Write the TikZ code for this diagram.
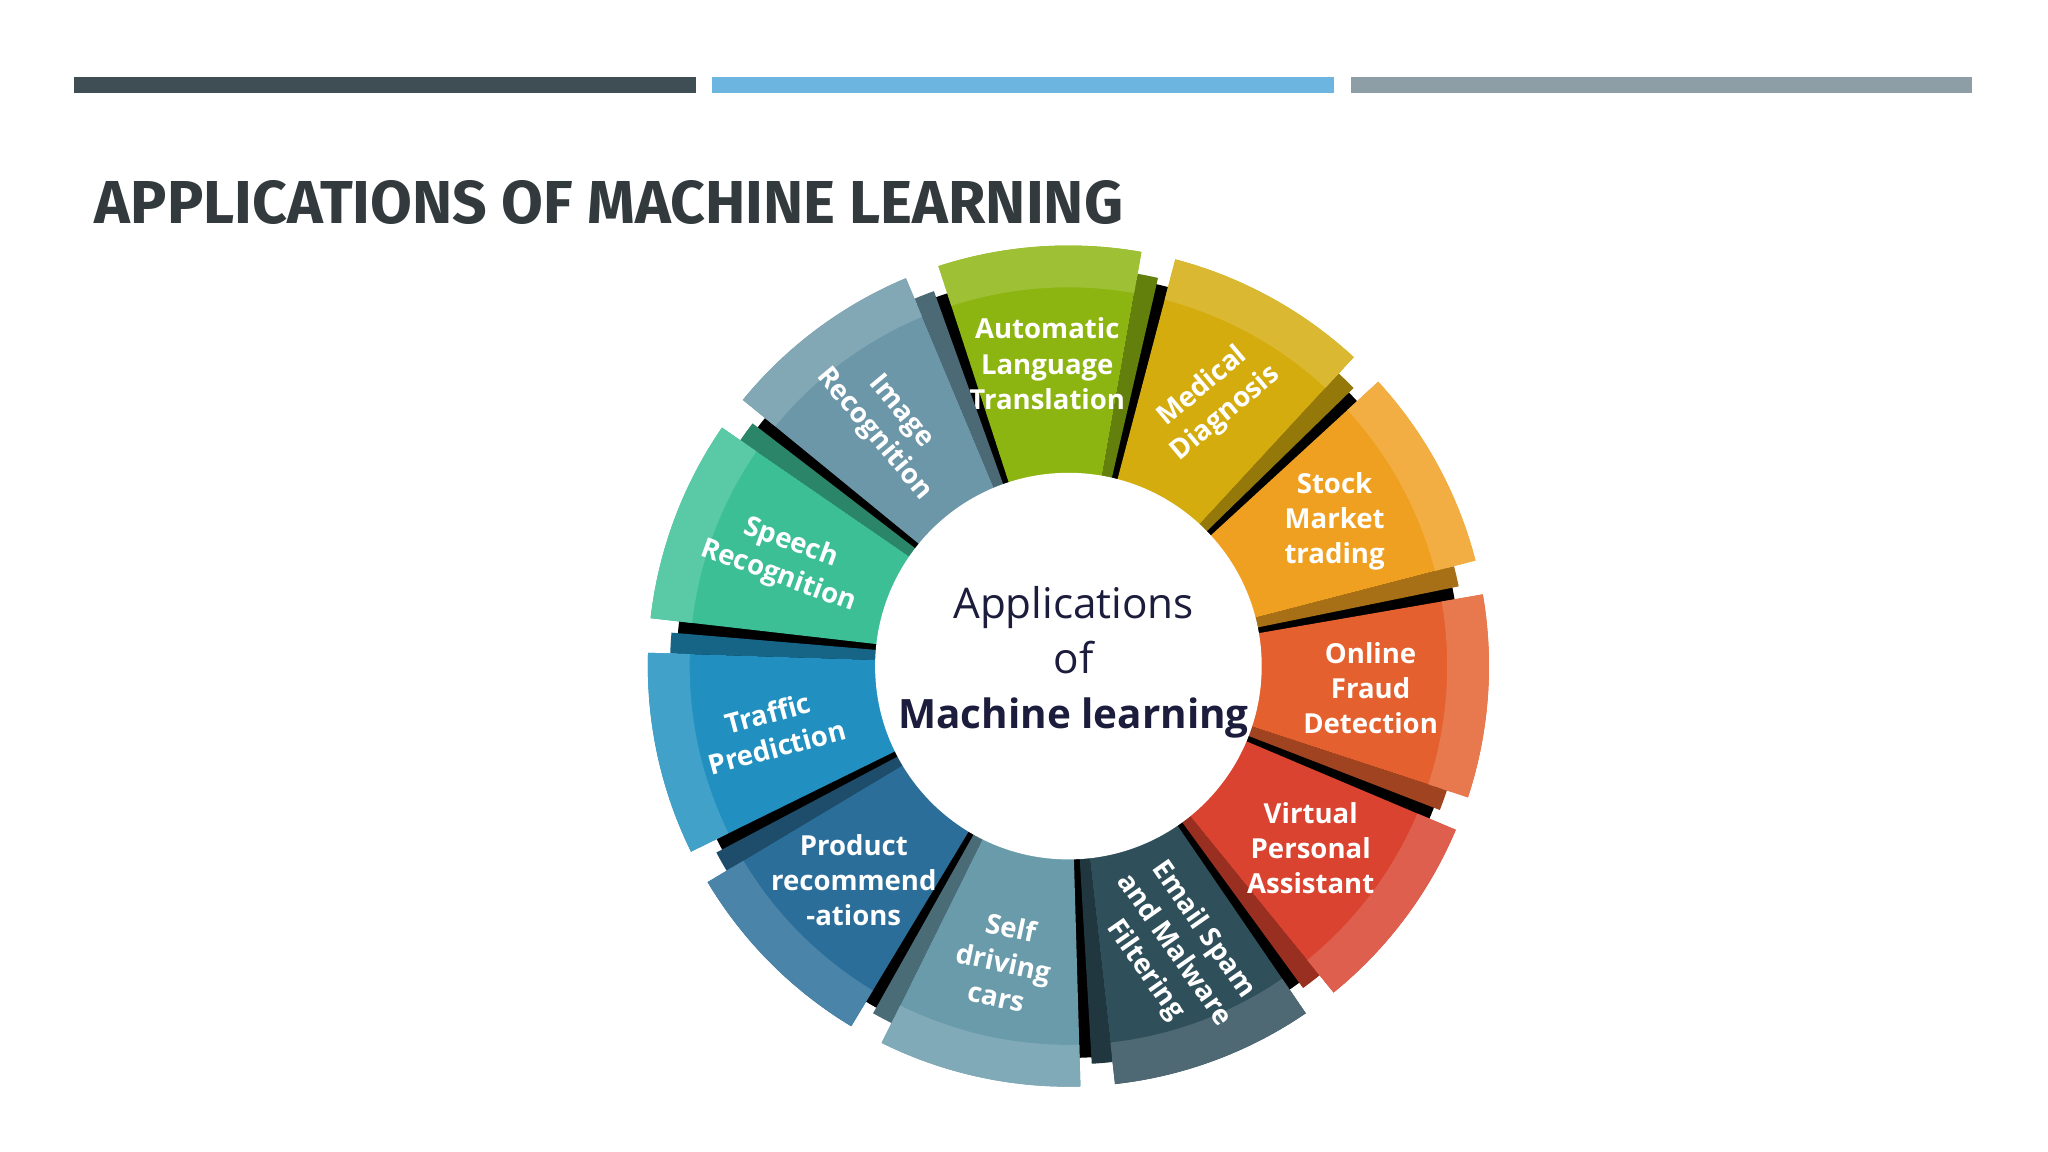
\documentclass[tikz,border=0pt]{standalone}
\usepackage{fontspec}
\usetikzlibrary{calc}
\setmainfont{Open Sans}
\newfontfamily\titlefont{Fira Sans}
\begin{document}
\begin{tikzpicture}[x=0.01cm,y=0.01cm,
  seglabel/.style={text=white,font=\fontsize{6.0}{7.7}\selectfont\bfseries,align=center,inner sep=0pt}]
\useasboundingbox (0,0) rectangle (1568,882);
\definecolor{barA}{HTML}{3F4E55}\definecolor{barB}{HTML}{6BB5E0}\definecolor{barC}{HTML}{8E9EA6}
\definecolor{titlec}{HTML}{333A3E}
\definecolor{cA}{HTML}{8DB511}\definecolor{cB}{HTML}{D4AC0D}\definecolor{cC}{HTML}{F0A020}
\definecolor{cD}{HTML}{E4602E}\definecolor{cE}{HTML}{D9432F}\definecolor{cF}{HTML}{2F4F5A}
\definecolor{cG}{HTML}{6A9BAA}\definecolor{cH}{HTML}{2A6E99}\definecolor{cI}{HTML}{2190C0}
\definecolor{cJ}{HTML}{3DBF96}\definecolor{cK}{HTML}{6C97A8}\definecolor{navy}{HTML}{1C1C3C}
\fill[barA] (57,811) rectangle (533,823);
\fill[barB] (545,811) rectangle (1021,823);
\fill[barC] (1034,811) rectangle (1510,823);
\node[anchor=west,inner sep=0pt,text=titlec,font=\titlefont\fontsize{13.2}{15}\selectfont\bfseries] (title) at (72,727) {APPLICATIONS OF MACHINE LEARNING};
\coordinate (c) at (818,372);
\fill[black] ($(c)+(0:300)$) arc[start angle=0,end angle=360,radius=300] -- cycle;
\foreach \k/\col/\rot/\txt in {0/cA/0/{Automatic\\Language\\Translation},1/cB/40/{Medical\\Diagnosis},2/cC/0/{Stock\\Market\\trading},3/cD/0/{Online\\Fraud\\Detection},4/cE/0/{Virtual\\Personal\\Assistant},5/cF/-55/{Email Spam\\and Malware\\Filtering},6/cG/-12/{Self\\driving\\cars},7/cH/0/{Product\\recommend\\-ations},8/cI/15/{Traffic\\Prediction},9/cJ/-20/{Speech\\Recognition},10/cK/-50/{Image\\Recognition}}{
  \pgfmathsetmacro{\t}{94-32.727*\k}
  \pgfmathsetmacro{\a}{\t-14}\pgfmathsetmacro{\b}{\t+14}\pgfmathsetmacro{\s}{\t-17}
  \fill[\col!70!black] ($(c)+(\s:145)$) arc[start angle=\s,end angle=\a,radius=145] -- ($(c)+(\a:305)$) arc[start angle=\a,end angle=\s,radius=305] -- cycle;
  \fill[\col] ($(c)+(\a:145)$) arc[start angle=\a,end angle=\b,radius=145] -- ($(c)+(\b:322)$) arc[start angle=\b,end angle=\a,radius=322] -- cycle;
  \fill[\col!85!white] ($(c)+(\a:290)$) arc[start angle=\a,end angle=\b,radius=290] -- ($(c)+(\b:322)$) arc[start angle=\b,end angle=\a,radius=322] -- cycle;
  \node[seglabel,rotate=\rot] (lab\k) at ($(c)+(\t:232)$) {\txt};
}
\fill[white] ($(c)+(0:148)$) arc[start angle=0,end angle=360,radius=148] -- cycle;
\node[align=center,text=navy,inner sep=0pt,font=\fontsize{9.2}{12}\selectfont] (center) at (822,375) {Applications\\of\\{\fontsize{8.8}{12}\selectfont\bfseries Machine learning}};
\end{tikzpicture}
\end{document}
